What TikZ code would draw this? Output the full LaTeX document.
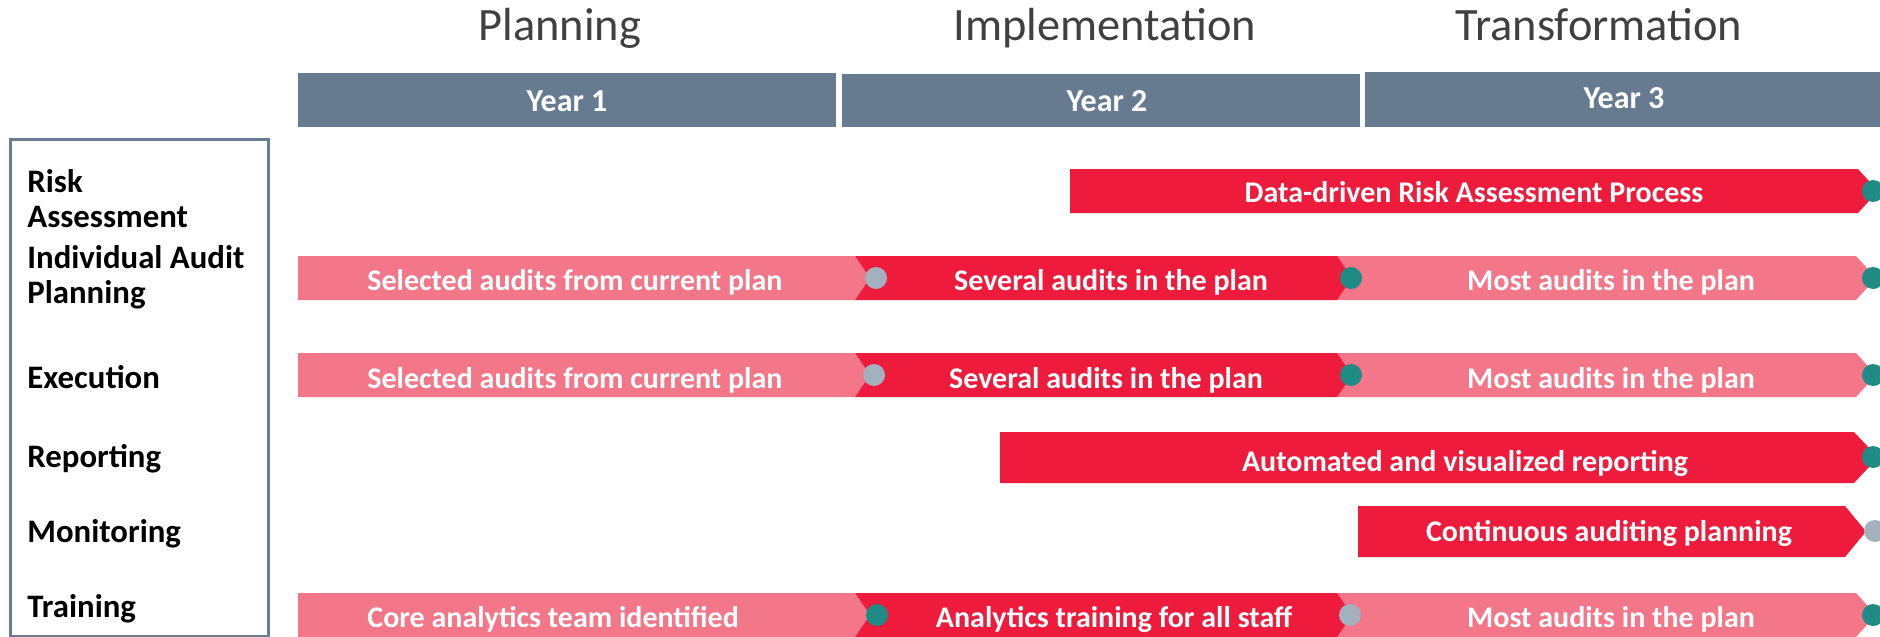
\documentclass[tikz,border=0pt]{standalone}
\usepackage{fontspec}
\setmainfont{Carlito}
\definecolor{yearblue}{HTML}{667B8F}
\definecolor{barred}{HTML}{EE1B3C}
\definecolor{barpink}{HTML}{F37788}
\definecolor{dotteal}{HTML}{1F8B84}
\definecolor{dotgrey}{HTML}{A3B0BD}
\definecolor{boxgrey}{HTML}{687D92}
\definecolor{titlegrey}{HTML}{404040}
\begin{document}
\begin{tikzpicture}[x=0.5pt,y=-0.5pt,
    phasetitle/.style={font=\fontsize{23.2}{28}\selectfont, text=titlegrey, anchor=base, inner sep=0pt},
    yeartext/.style={font=\bfseries\fontsize{16}{19}\selectfont, text=white, inner sep=0pt},
    rowlabel/.style={font=\bfseries\fontsize{16.4}{19}\selectfont, anchor=base west, inner sep=0pt},
    bartext/.style={font=\bfseries\fontsize{15}{18}\selectfont, text=white, anchor=base, inner sep=0pt},
    milestone/.style={circle, inner sep=0pt, minimum size=11pt}]
    \useasboundingbox (0,0) rectangle (1880,637);

    % phases
    \node[phasetitle] (planning) at (560,40) {Planning};
    \node[phasetitle] (implementation) at (1105,40) {Implementation};
    \node[phasetitle] (transformation) at (1599,40) {Transformation};

    % years
    \begin{scope}[yearblue]
        \fill (298,73) rectangle (836,127);
        \fill (842,74) rectangle (1360,127);
        \fill (1365,72) rectangle (1880,127);
    \end{scope}
    \node[yeartext] (year1) at (567,101) {Year 1};
    \node[yeartext] (year2) at (1107,101) {Year 2};
    \node[yeartext] (year3) at (1624,98) {Year 3};

    % left box
    \draw[boxgrey, line width=1.5pt] (10,139) rectangle (268,636);
    \node[rowlabel] (risk) at (27,192) {Risk};
    \node[rowlabel] (risk2) at (27,227) {Assessment};
    \node[rowlabel] (audit) at (27,268) {Individual Audit};
    \node[rowlabel] (audit2) at (27,303) {Planning};
    \node[rowlabel] (execution) at (27,388) {Execution};
    \node[rowlabel] (reporting) at (27,467) {Reporting};
    \node[rowlabel] (monitoring) at (27,542) {Monitoring};
    \node[rowlabel] (training) at (27,617) {Training};

    % bars, right segment first so that each tip lies on the next one
    \foreach \xa/\xb/\xc/\ya/\yb/\col in {
            1070/1858/1878/169/213/barred,
            1337/1856/1876/256/300/barpink, 855/1337/1352/256/300/barred, 298/855/870/256/300/barpink,
            1337/1856/1876/353/397/barpink, 855/1337/1352/353/397/barred, 298/855/870/353/397/barpink,
            1000/1854/1878/432/483/barred,
            1358/1845/1866/506/557/barred,
            1337/1856/1876/593/637/barpink, 855/1337/1352/593/637/barred, 298/855/870/593/637/barpink} {
            \fill[\col] (\xa,\ya) -- (\xb,\ya) -- (\xc,{(\ya+\yb)/2}) -- (\xb,\yb) -- (\xa,\yb) -- cycle;
        }

    % bar labels
    \node[bartext] (riskbar) at (1474,202) {Data-driven Risk Assessment Process};
    \node[bartext, anchor=base west] (auditbar1) at (367,290) {Selected audits from current plan};
    \node[bartext] (auditbar2) at (1111,290) {Several audits in the plan};
    \node[bartext] (auditbar3) at (1611,290) {Most audits in the plan};
    \node[bartext, anchor=base west] (execbar1) at (367,388) {Selected audits from current plan};
    \node[bartext] (execbar2) at (1106,388) {Several audits in the plan};
    \node[bartext] (execbar3) at (1611,388) {Most audits in the plan};
    \node[bartext] (reportbar) at (1465,471) {Automated and visualized reporting};
    \node[bartext] (monitorbar) at (1609,541) {Continuous auditing planning};
    \node[bartext, anchor=base west] (trainbar1) at (367,627) {Core analytics team identified};
    \node[bartext] (trainbar2) at (1114,627) {Analytics training for all staff};
    \node[bartext] (trainbar3) at (1611,627) {Most audits in the plan};

    % milestones
    \node[milestone, fill=dotteal] (m1) at (1873,191) {};
    \node[milestone, fill=dotgrey] (m2a) at (876,278) {};
    \node[milestone, fill=dotteal] (m2b) at (1351,278) {};
    \node[milestone, fill=dotteal] (m2c) at (1873,278) {};
    \node[milestone, fill=dotgrey] (m3a) at (874,375) {};
    \node[milestone, fill=dotteal] (m3b) at (1351,375) {};
    \node[milestone, fill=dotteal] (m3c) at (1873,375) {};
    \node[milestone, fill=dotteal] (m4) at (1873,457) {};
    \node[milestone, fill=dotgrey] (m5) at (1875,531) {};
    \node[milestone, fill=dotteal] (m6a) at (877,615) {};
    \node[milestone, fill=dotgrey] (m6b) at (1350,615) {};
    \node[milestone, fill=dotteal] (m6c) at (1873,615) {};
\end{tikzpicture}
\end{document}
